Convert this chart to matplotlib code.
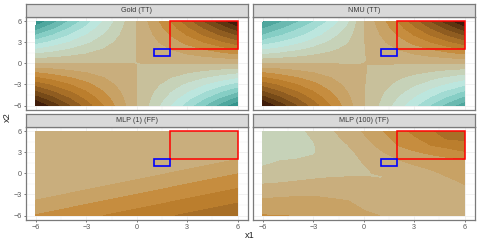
import numpy as np
import matplotlib
matplotlib.use("Agg")
import matplotlib.pyplot as plt
from matplotlib.colors import ListedColormap, BoundaryNorm
from matplotlib.patches import Rectangle

plt.rcParams['font.family'] = ['Liberation Sans', 'DejaVu Sans']

titles = ['Gold (TT)', 'NMU (TT)', 'MLP (1) (FF)', 'MLP (100) (TF)']
ticks = [-6, -3, 0, 3, 6]
tick_labels = ['\u22126', '\u22123', '0', '3', '6']

# one colour per band, from -36 up to 36 in steps of 4
levels = [-36, -32, -28, -24, -20, -16, -12, -8, -4, 0, 4, 8, 12, 16, 20, 24, 28, 32, 37]
band_colors = ['#35948c', '#4fa79e', '#6ab9b0', '#86cec5', '#a2dbd3', '#bce6de', '#c6dfd0', '#c6d2b8', '#c8c09b',
               '#c9ae7d', '#c8a265', '#c68d3f', '#bb7e2d', '#a86f27', '#8f5c20', '#764a18', '#5c3510', '#3f1c0a']

x1_dense = [-6, -5, -4, -3, -2, -1, -0.25, 0, 0.25, 1, 2, 3, 4, 5, 6]
x2_dense = [6, 5, 4, 3, 2, 1, 0.25, 0, -0.25, -1, -2, -3, -4, -5, -6]

gold = [
    [-36, -30, -24, -18, -12, -6, -1.5, 0, 1.5, 6, 12, 18, 24, 30, 36],
    [-30, -25, -20, -15, -10, -5, -1.25, 0, 1.25, 5, 10, 15, 20, 25, 30],
    [-24, -20, -16, -12, -8, -4, -1, 0, 1, 4, 8, 12, 16, 20, 24],
    [-18, -15, -12, -9, -6, -3, -0.75, 0, 0.75, 3, 6, 9, 12, 15, 18],
    [-12, -10, -8, -6, -4, -2, -0.5, 0, 0.5, 2, 4, 6, 8, 10, 12],
    [-6, -5, -4, -3, -2, -1, -0.25, 0, 0.25, 1, 2, 3, 4, 5, 6],
    [-1.5, -1.25, -1, -0.75, -0.5, -0.25, -0.06, 0, 0.06, 0.25, 0.5, 0.75, 1, 1.25, 1.5],
    [0, 0, 0, 0, 0, 0, 0, 0, 0, 0, 0, 0, 0, 0, 0],
    [1.5, 1.25, 1, 0.75, 0.5, 0.25, 0.06, 0, -0.06, -0.25, -0.5, -0.75, -1, -1.25, -1.5],
    [6, 5, 4, 3, 2, 1, 0.25, 0, -0.25, -1, -2, -3, -4, -5, -6],
    [12, 10, 8, 6, 4, 2, 0.5, 0, -0.5, -2, -4, -6, -8, -10, -12],
    [18, 15, 12, 9, 6, 3, 0.75, 0, -0.75, -3, -6, -9, -12, -15, -18],
    [24, 20, 16, 12, 8, 4, 1, 0, -1, -4, -8, -12, -16, -20, -24],
    [30, 25, 20, 15, 10, 5, 1.25, 0, -1.25, -5, -10, -15, -20, -25, -30],
    [36, 30, 24, 18, 12, 6, 1.5, 0, -1.5, -6, -12, -18, -24, -30, -36],
]

nmu = [
    [-33, -29, -25, -20.5, -15.5, -9.5, -2.6, -0.3, 1.5, 6, 12, 18, 24, 30, 36],
    [-28.5, -25, -21, -17, -12.5, -7.5, -2.1, -0.3, 1.25, 5, 10, 15, 20, 25, 30],
    [-24, -20.5, -17.5, -14, -10, -6, -1.7, -0.3, 1, 4, 8, 12, 16, 20, 24],
    [-18.5, -16, -13.5, -10.5, -7.5, -4.5, -1.3, -0.3, 0.75, 3, 6, 9, 12, 15, 18],
    [-12.5, -11, -9, -7, -5, -3, -0.9, -0.3, 0.5, 2, 4, 6, 8, 10, 12],
    [-6.5, -5.5, -4.5, -3.5, -2.5, -1.5, -0.6, -0.3, 0.25, 1, 2, 3, 4, 5, 6],
    [-1.6, -1.4, -1.1, -0.9, -0.6, -0.4, -0.2, -0.1, 0.06, 0.25, 0.5, 0.75, 1, 1.25, 1.5],
    [-0.2, -0.2, -0.2, -0.2, -0.2, -0.2, -0.1, 0, 0.1, 0.2, 0.2, 0.2, 0.2, 0.2, 0.2],
    [1.5, 1.25, 1, 0.75, 0.5, 0.25, 0.06, 0.05, -0.05, -0.2, -0.4, -0.65, -0.9, -1.1, -1.3],
    [6, 5, 4, 3, 2, 1, 0.4, 0.2, -0.1, -0.8, -1.7, -2.6, -3.5, -4.4, -5.3],
    [12, 10, 8, 6, 4, 2, 0.6, 0.2, -0.3, -1.7, -3.4, -5.2, -7, -8.8, -10.6],
    [18, 15, 12, 9, 6, 3, 0.9, 0.2, -0.5, -2.5, -5, -7.6, -10.2, -12.8, -15.4],
    [24, 20, 16, 12, 8, 4, 1.1, 0.2, -0.7, -3.3, -6.7, -10.2, -13.7, -17.2, -20.7],
    [30, 25, 20, 15, 10, 5, 1.4, 0.2, -0.9, -4, -8.3, -12.7, -17, -21.5, -26],
    [36, 30, 24, 18, 12, 6, 1.6, 0.2, -1.1, -4.8, -10, -15.3, -20.6, -26, -31],
]

x1_mlp1 = [-6, -4, -2, 0, 2, 4, 6]
x2_mlp1 = [6, 4, 2, 0, -2, -4, -6]
mlp1 = [
    [0.2, 0.2, 0.2, 0.2, 0.2, 0.2, 0.2],
    [0.2, 0.2, 0.2, 0.2, 0.2, 0.2, 0.2],
    [0.2, 0.2, 0.2, 0.2, 0.26, 2.12, 3.98],
    [0.2, 0.2, 0.4, 2.26, 4.12, 5.98, 7.84],
    [0.54, 2.4, 4.26, 6.12, 7.98, 9.84, 11.7],
    [4.4, 6.26, 8.12, 9.98, 11.84, 13.7, 15.56],
    [8.26, 10.12, 11.98, 13.84, 15.7, 17.56, 19.42],
]

x1_mlp100 = [-6, -5, -4, -3, -2, -1, 0, 1, 2, 3, 4, 5, 6]
x2_mlp100 = [6, 5, 4, 3, 2, 1, 0, -0.5, -1, -2, -3, -4, -5, -6]
mlp100 = [
    [-8.3, -5, -4.6, -3.5, -0.7, 1.75, 4.3, 7.6, 10.3, 13, 15.5, 17.6, 19],
    [-5.5, -5, -4.6, -3.9, -1.5, 0.9, 3.4, 6.3, 9.2, 11.4, 13.8, 16.5, 17],
    [-5, -4.9, -4.5, -4.2, -2.2, -0.2, 2.5, 4.9, 8, 9.5, 12, 13.2, 14],
    [-4.8, -4.7, -4.3, -4.2, -2.8, -1.2, 1.5, 3.5, 6, 7.6, 8.7, 10.2, 11.7],
    [-4.4, -4.2, -4, -3.7, -3, -2, 0.6, 2.2, 4, 5.6, 6.6, 7.2, 8],
    [-4, -3.3, -2.8, -2.5, -2.1, -1.7, -0.2, 1.2, 2.2, 3.6, 4.8, 6, 7],
    [-2.46, -1.9, -1.4, -1.1, -0.9, -0.7, -0.3, 0.3, 1, 2.1, 3.2, 4.6, 5.8],
    [-1.7, -1.2, -0.8, -0.45, -0.15, 0, 0.1, -0.2, 0.4, 1.5, 2.6, 4, 5.2],
    [-0.9, -0.55, -0.15, 0.25, 0.5, 0.7, 0.8, 0.3, -0.05, 0.6, 2.1, 3.3, 4.7],
    [0.8, 1, 1.4, 2, 2, 1.9, 1.7, 1.4, 0.8, 1.3, 2, 2.7, 3.5],
    [2.8, 3.2, 3.5, 3.7, 3.4, 3.1, 2.5, 2.2, 1.6, 1.8, 2.1, 2.5, 3],
    [4.8, 5, 5.2, 5, 4.5, 4.15, 3.2, 2.9, 2.2, 2.2, 2.3, 2.5, 3],
    [6.3, 6.5, 6.5, 6.2, 5.6, 5, 3.8, 3.4, 2.8, 2.6, 2.6, 2.7, 3],
    [8.2, 8.05, 7.95, 7.4, 6.6, 5.8, 4.6, 3.95, 3.2, 3, 3, 3, 3.2],
]

red_box = (2, 2, 4, 4)
blue_box = (1, 1, 1, 1)

W, H = 479, 240


def axes_px(fig, left, top, right, bottom):
    return fig.add_axes([left / W, 1 - bottom / H, (right - left) / W, (bottom - top) / H])


def draw_panel(fig, box, title, x, y, z, show_x, show_y):
    left, top, right, bottom = box
    ax = axes_px(fig, left, top, right, bottom)
    cmap = ListedColormap(band_colors)
    norm = BoundaryNorm(levels, cmap.N)
    ax.contourf(x, y, z, levels=levels, cmap=cmap, norm=norm, zorder=2)

    ax.add_patch(Rectangle(red_box[:2], red_box[2], red_box[3], fill=False, edgecolor='#ff0000', lw=1.1, zorder=3))
    ax.add_patch(Rectangle(blue_box[:2], blue_box[2], blue_box[3], fill=False, edgecolor='#0000ff', lw=1.2, zorder=3))

    ax.set_xlim(-6.62, 6.62)
    ax.set_ylim(-6.62, 6.58)
    ax.set_xticks(ticks)
    ax.set_yticks(ticks)
    ax.set_xticks([-4.5, -1.5, 1.5, 4.5], minor=True)
    ax.set_yticks([-4.5, -1.5, 1.5, 4.5], minor=True)
    ax.grid(True, which='major', color='#ebebeb', lw=0.5, zorder=0)
    ax.grid(True, which='minor', color='#f0f0f0', lw=0.3, zorder=0)
    ax.set_axisbelow(True)
    ax.tick_params(which='minor', length=0)
    ax.tick_params(axis='x', length=1.6 if show_x else 0, width=0.5, color='#444444', labelsize=5.2,
                   labelcolor='#5a5a5a', pad=1.2, labelbottom=show_x)
    ax.tick_params(axis='y', length=1.6 if show_y else 0, width=0.5, color='#444444', labelsize=5.2,
                   labelcolor='#5a5a5a', pad=1.2, labelleft=show_y)
    if show_x:
        ax.set_xticklabels(tick_labels)
    if show_y:
        ax.set_yticklabels(tick_labels)
    for s in ax.spines.values():
        s.set_color('#7a7a7a')
        s.set_linewidth(0.9)

    strip = axes_px(fig, left, top - 13, right, top)
    strip.set_facecolor('#d9d9d9')
    strip.set_xticks([])
    strip.set_yticks([])
    for s in strip.spines.values():
        s.set_color('#7a7a7a')
        s.set_linewidth(0.9)
    strip.text(0.5, 0.47, title, ha='center', va='center', fontsize=5.2, color='#3a3a3a', transform=strip.transAxes)


fig = plt.figure(figsize=(W / 100, H / 100), dpi=100)

draw_panel(fig, (25.5, 17, 248, 110), titles[0], x1_dense, x2_dense, gold, False, True)
draw_panel(fig, (252.5, 17, 475, 110), titles[1], x1_dense, x2_dense, nmu, False, False)
draw_panel(fig, (25.5, 127, 248, 220), titles[2], x1_mlp1, x2_mlp1, mlp1, True, True)
draw_panel(fig, (252.5, 127, 475, 220), titles[3], x1_mlp100, x2_mlp100, mlp100, True, False)

fig.text(250 / W, 1 - 235.5 / H, 'x1', ha='center', va='center', fontsize=6.6, color='#222222')
fig.text(7.5 / W, 1 - 117 / H, 'x2', ha='center', va='center', rotation=90, fontsize=6.6, color='#222222')

fig.savefig('out.png', dpi=100)
